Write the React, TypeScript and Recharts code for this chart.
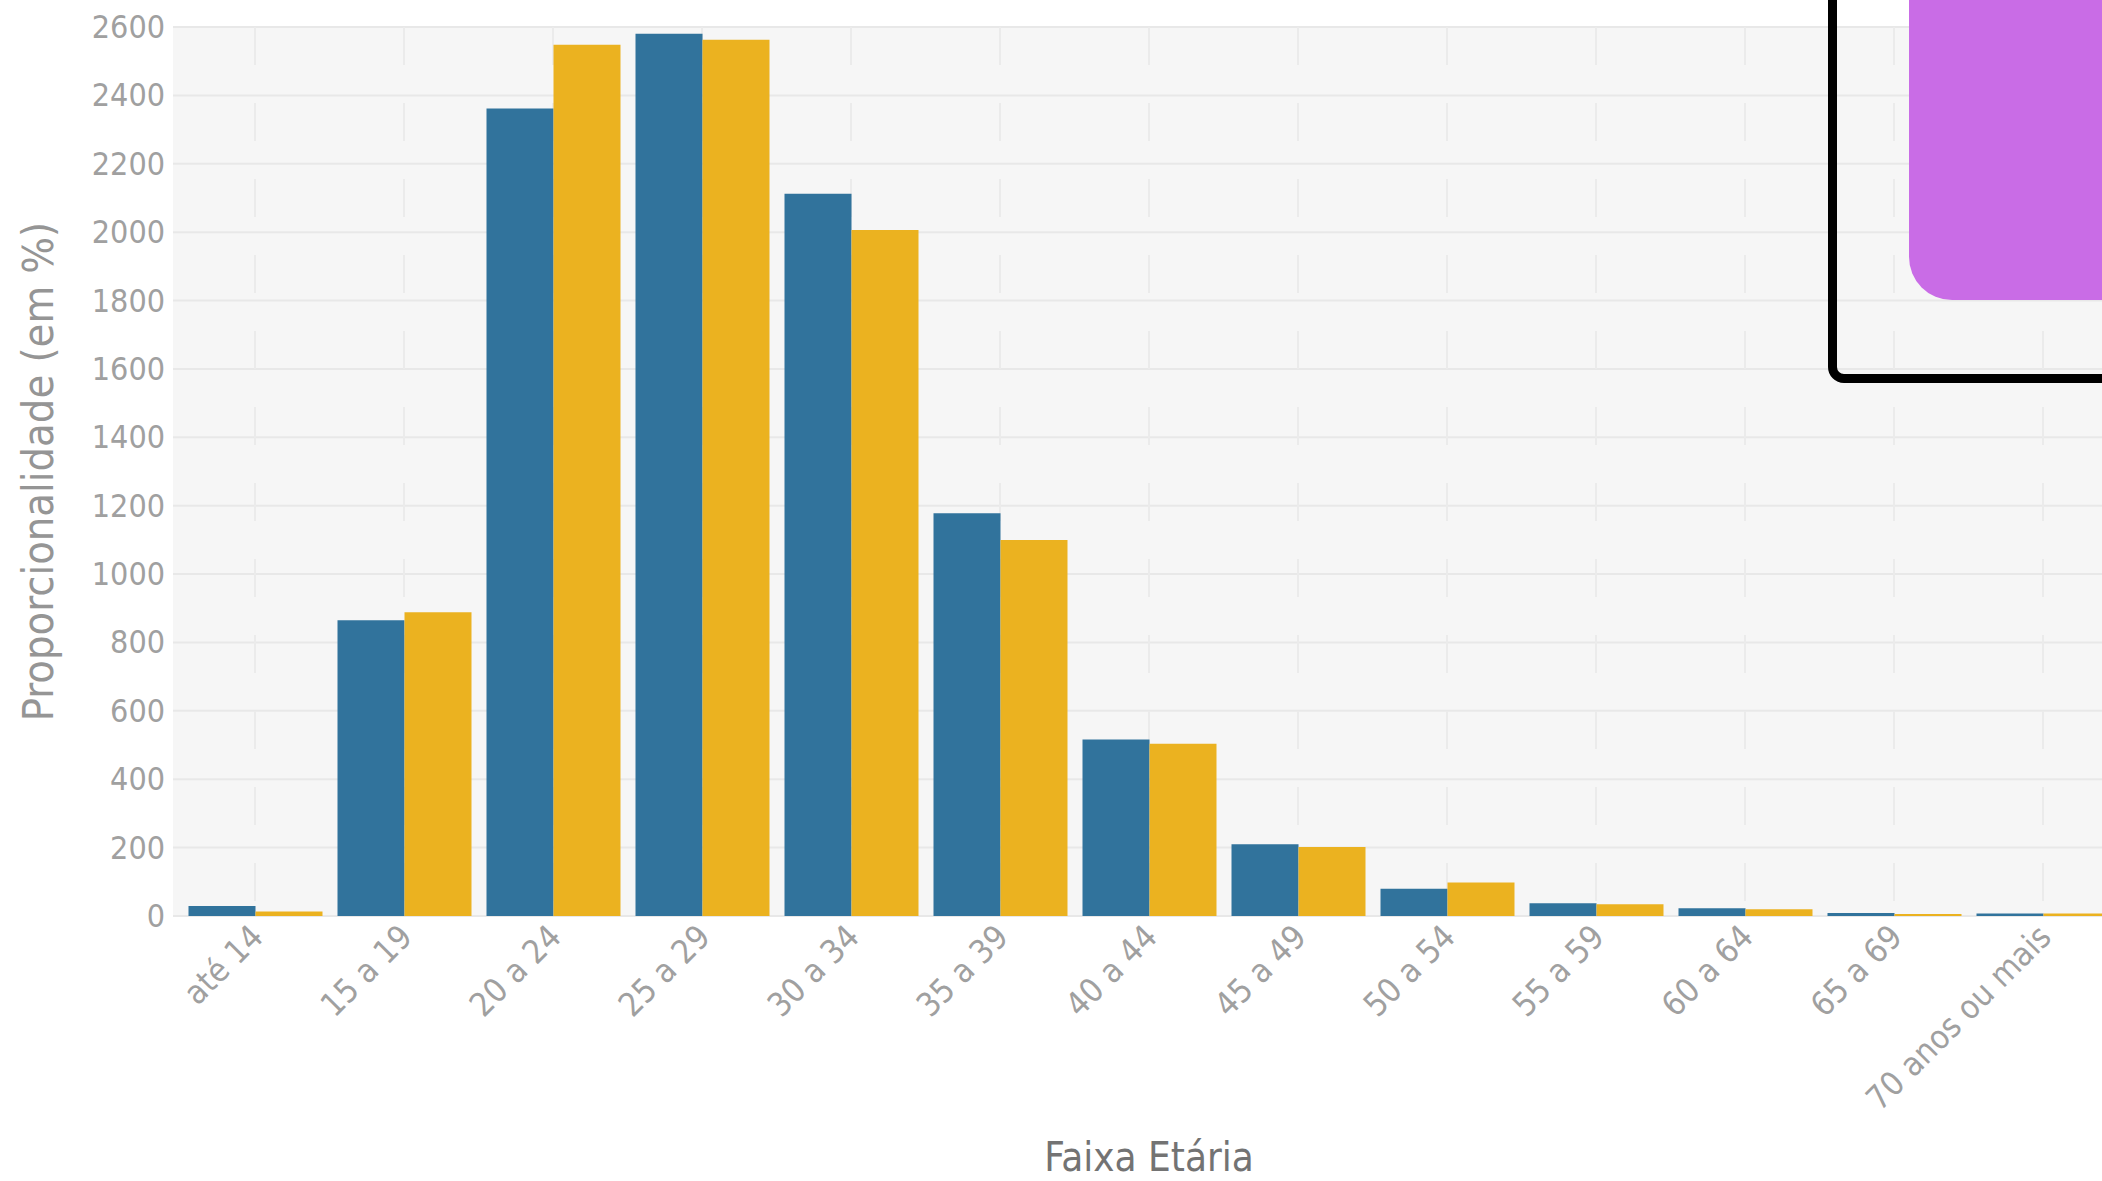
import React from "react";
import { BarChart, Bar, XAxis, YAxis, CartesianGrid } from "recharts";

// faixas etárias e valores
const categories = [
  "até 14",
  "15 a 19",
  "20 a 24",
  "25 a 29",
  "30 a 34",
  "35 a 39",
  "40 a 44",
  "45 a 49",
  "50 a 54",
  "55 a 59",
  "60 a 64",
  "65 a 69",
  "70 anos ou mais",
];
const serieAzul = [29, 865, 2362, 2580, 2112, 1178, 516, 210, 80, 37, 23, 9, 7];
const serieAmarela = [13, 888, 2548, 2563, 2006, 1100, 504, 202, 98, 34, 20, 6, 7];
const yTicks = [0, 200, 400, 600, 800, 1000, 1200, 1400, 1600, 1800, 2000, 2200, 2400, 2600];

const data = categories.map((faixa, i) => ({
  faixa,
  azul: serieAzul[i],
  amarela: serieAmarela[i],
}));

const FONT = "'DejaVu Sans Condensed', 'DejaVu Sans', sans-serif";

const YTick = ({ x, y, payload }: any) => (
  <text
    x={x}
    y={y}
    textAnchor="end"
    dominantBaseline="central"
    fill="#a0a0a0"
    fontSize={32}
    fontFamily={FONT}
    style={{ fontStretch: "condensed" }}
  >
    {payload.value}
  </text>
);

const XTick = ({ x, y, payload }: any) => {
  const ax = x + 10;
  const ay = y + 15;
  return (
    <text
      x={ax}
      y={ay}
      textAnchor="end"
      transform={`rotate(-45, ${ax}, ${ay})`}
      fill="#a0a0a0"
      fontSize={33}
      fontFamily={FONT}
      style={{ fontStretch: "condensed" }}
    >
      {payload.value}
    </text>
  );
};

const YTitle = (props: any) => {
  const vb = props.viewBox || {};
  const cx = 38;
  const cy = (vb.y ?? 27) + (vb.height ?? 889) / 2;
  return (
    <text
      x={cx}
      y={cy}
      textAnchor="middle"
      dominantBaseline="central"
      transform={`rotate(-90, ${cx}, ${cy})`}
      fill="#959595"
      fontSize={43}
      fontFamily={FONT}
      style={{ fontStretch: "condensed" }}
    >
      Proporcionalidade (em %)
    </text>
  );
};

const XTitle = (props: any) => {
  const vb = props.viewBox || {};
  const cx = (vb.x ?? 173) + (vb.width ?? 1952) / 2;
  const cy = (vb.y ?? 916) + 255;
  return (
    <text
      x={cx}
      y={cy}
      textAnchor="middle"
      fill="#737373"
      fontSize={40}
      fontFamily={FONT}
      style={{ fontStretch: "condensed" }}
    >
      Faixa Etária
    </text>
  );
};

export default function App() {
  return (
    <div
      style={{
        position: "fixed",
        inset: 0,
        overflow: "hidden",
        background: "#ffffff",
      }}
    >
      <div style={{ position: "absolute", left: 0, top: 0 }}>
        <BarChart
          width={2125}
          height={1181}
          data={data}
          margin={{ top: 27, right: 0, left: 0, bottom: 0 }}
          barGap={0}
          barSize={67}
        >
          <CartesianGrid vertical={false} stroke="#e8e8e8" strokeWidth={2} fill="#f6f6f6" />
          <CartesianGrid
            horizontal={false}
            syncWithTicks
            stroke="#ebebeb"
            strokeWidth={2}
            strokeDasharray="38 38"
          />
          <XAxis
            dataKey="faixa"
            interval={0}
            height={265}
            padding={{ left: 7.5, right: 7.5 }}
            axisLine={false}
            tickLine={false}
            tick={<XTick />}
            label={<XTitle />}
          />
          <YAxis
            width={173}
            domain={[0, 2600]}
            ticks={yTicks}
            axisLine={false}
            tickLine={false}
            tick={<YTick />}
            label={<YTitle />}
          />
          <Bar dataKey="azul" fill="#31739c" isAnimationActive={false} />
          <Bar dataKey="amarela" fill="#ebb220" isAnimationActive={false} />
        </BarChart>
      </div>
      {/* moldura preta e bloco roxo no canto superior direito */}
      <div
        style={{
          position: "absolute",
          left: 1828,
          top: -30,
          width: 400,
          height: 413,
          boxSizing: "border-box",
          border: "9px solid #000000",
          borderRadius: 16,
        }}
      />
      <div
        style={{
          position: "absolute",
          left: 1909,
          top: -60,
          width: 300,
          height: 360,
          background: "#c96ce6",
          borderRadius: 43,
        }}
      />
    </div>
  );
}
